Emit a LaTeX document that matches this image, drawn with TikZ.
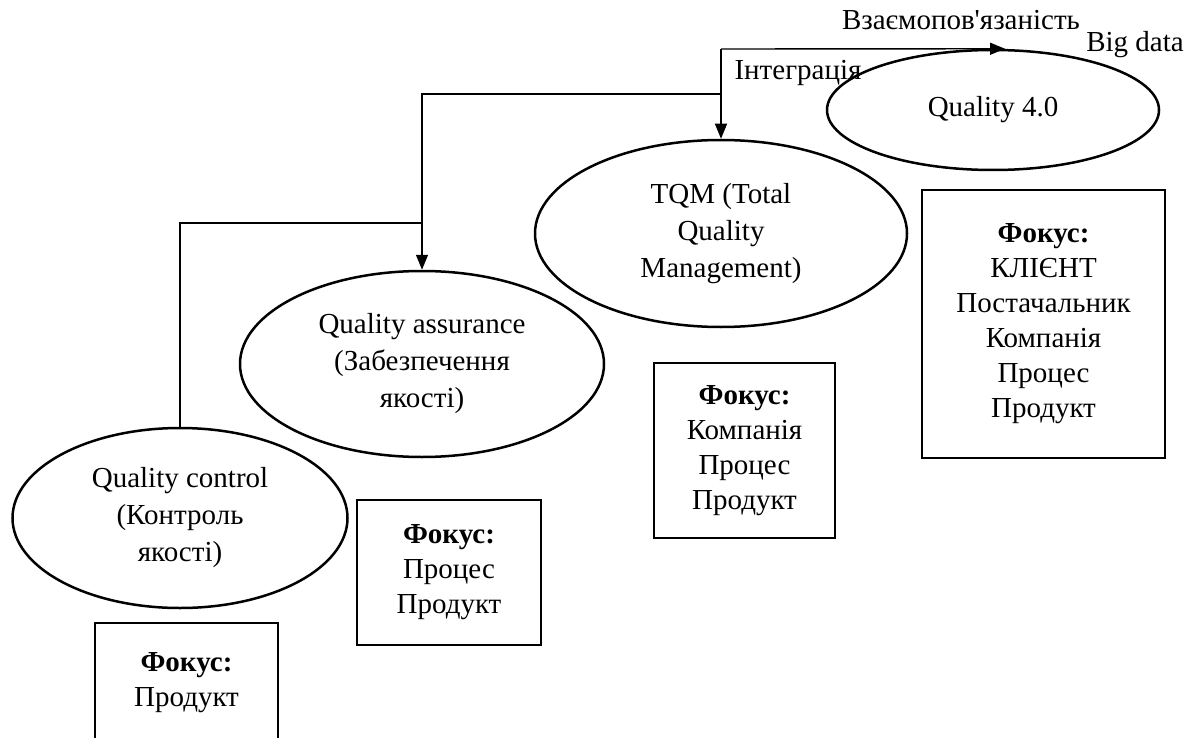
\documentclass[tikz,border=0pt]{standalone}
\usepackage{fontspec}
\setmainfont{Liberation Serif}[Ligatures=TeXOff]
\usetikzlibrary{shapes.geometric,arrows.meta}
\tikzset{
  stage/.style={draw, ellipse, line width=2.5pt, inner sep=0pt, align=center,
    font=\fontsize{29}{37}\selectfont},
  focusbox/.style={draw, rectangle, line width=2.6pt, inner sep=0pt, align=center,
    font=\fontsize{29}{35}\selectfont},
  conn/.style={line width=1.4pt},
  arr/.style={line width=1.4pt, -{Triangle[length=15pt,width=12pt]}},
  lbl/.style={inner sep=0pt, anchor=base, font=\fontsize{29}{35}\selectfont}
}
\begin{document}
\begin{tikzpicture}[x=1pt,y=-1pt]
\useasboundingbox (0,0) rectangle (1201,738);
\clip (0,0) rectangle (1201,738);
% ellipses
\node[stage, minimum width=335pt, minimum height=180pt] (qc) at (180,518)
  {Quality control\\(Контроль\\якості)};
\node[stage, minimum width=364pt, minimum height=186pt] (qa) at (422,364)
  {Quality assurance\\(Забезпечення\\якості)};
\node[stage, minimum width=372pt, minimum height=187pt] (tqm) at (721,233.5)
  {TQM (Total\\Quality\\Management)};
\node[stage, minimum width=332pt, minimum height=120pt] (q4) at (993,110)
  {Quality 4.0};
% focus boxes
\node[focusbox, minimum width=183pt, minimum height=120pt] (fqc) at (186.5,683)
  {\textbf{Фокус:}\\Продукт};
\node[focusbox, minimum width=184pt, minimum height=145pt] (fqa) at (449,572.5)
  {\textbf{Фокус:}\\Процес\\Продукт};
\node[focusbox, minimum width=181pt, minimum height=175pt] (ftqm) at (744.5,450.5)
  {\textbf{Фокус:}\\Компанія\\Процес\\Продукт};
\node[focusbox, minimum width=243pt, minimum height=268pt] (fq4) at (1043.5,324)
  {\textbf{Фокус:}\\КЛІЄНТ\\Постачальник\\Компанія\\Процес\\Продукт};
% junctions
\coordinate (ja) at (qa.north |- 0,223);
\coordinate (jb) at (tqm.north |- 0,94);
\coordinate (jc) at (tqm.north |- 0,49);
% connectors
\draw[conn] (qc.north) |- (ja);
\draw[arr] (ja) -- (qa.north);
\draw[conn] (ja) |- (jb);
\draw[conn] (jb) -- (jc);
\draw[arr] (jc) -- (tqm.north);
\draw[arr] (jc) -- ([xshift=12pt]q4.north);
% labels
\node[lbl] (l1) at (961,30) {Взаємопов'язаність};
\node[lbl] (l2) at (1135,52) {Big data};
\node[lbl] (l3) at (798,80) {Інтеграція};
\end{tikzpicture}
\end{document}
